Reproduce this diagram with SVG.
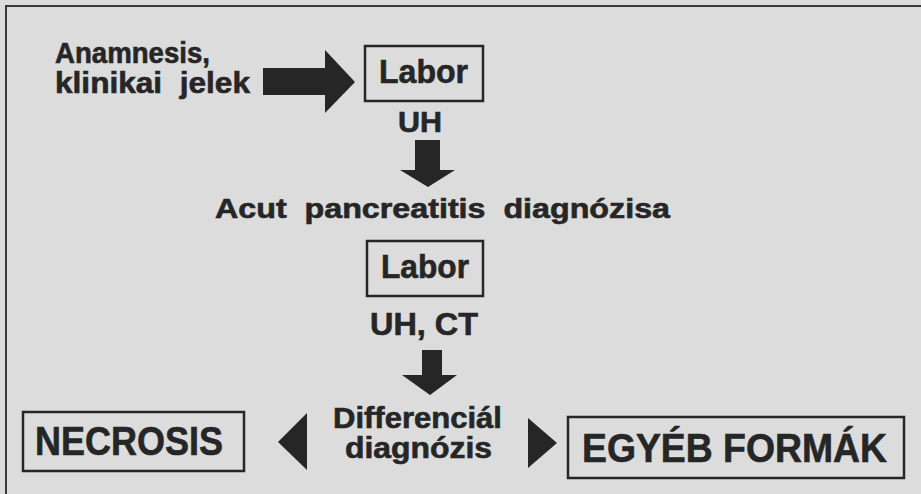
<svg xmlns="http://www.w3.org/2000/svg" width="921" height="494" viewBox="0 0 921 494">
  <style>
    .t { font-family: "Liberation Sans", Arial, sans-serif; font-weight: bold; fill: #262626; stroke: #262626; stroke-width: 0.6; }
    .box { fill: none; stroke: #262626; stroke-width: 2.5; }
    .arr { fill: #262626; stroke: none; }
    .frame { stroke: #3a3a3a; stroke-width: 2; fill: none; }
  </style>
  <rect x="0" y="0" width="921" height="494" fill="#dcdcdc"/>
  <path class="frame" d="M6 494 V6 H921"/>

  <g id="anamnesis">
    <text class="t" x="55" y="63" font-size="29" textLength="155" lengthAdjust="spacingAndGlyphs">Anamnesis,</text>
    <text class="t" x="55" y="93" font-size="29" textLength="195" lengthAdjust="spacingAndGlyphs" xml:space="preserve">klinikai  jelek</text>
  </g>

  <g id="labor1">
    <rect class="box" x="365" y="46" width="118" height="55"/>
    <text class="t" x="379" y="83" font-size="34" textLength="89" lengthAdjust="spacingAndGlyphs">Labor</text>
    <text class="t" x="398" y="132" font-size="29" textLength="44" lengthAdjust="spacingAndGlyphs">UH</text>
  </g>

  <g id="acut">
    <text class="t" x="215" y="218" font-size="27" textLength="455" lengthAdjust="spacingAndGlyphs" xml:space="preserve">Acut  pancreatitis  diagnózisa</text>
  </g>

  <g id="labor2">
    <rect class="box" x="367" y="241" width="116" height="55"/>
    <text class="t" x="381" y="278" font-size="34" textLength="88" lengthAdjust="spacingAndGlyphs">Labor</text>
    <text class="t" x="370" y="335" font-size="31" textLength="108" lengthAdjust="spacingAndGlyphs">UH, CT</text>
  </g>

  <g id="differencial">
    <text class="t" x="333" y="428" font-size="29" textLength="169" lengthAdjust="spacingAndGlyphs">Differenciál</text>
    <text class="t" x="345" y="458" font-size="29" textLength="147" lengthAdjust="spacingAndGlyphs">diagnózis</text>
  </g>

  <g id="necrosis">
    <rect class="box" x="23" y="412" width="221" height="59"/>
    <text class="t" x="35" y="455" font-size="40" textLength="188" lengthAdjust="spacingAndGlyphs">NECROSIS</text>
  </g>

  <g id="egyeb">
    <rect class="box" x="568" y="417" width="336" height="61"/>
    <text class="t" x="582" y="462" font-size="40" textLength="305" lengthAdjust="spacingAndGlyphs">EGYÉB FORMÁK</text>
  </g>

  <g id="connectors">
    <polygon class="arr" points="263,68 325,68 325,50 355,82 325,113 325,95 263,95"/>
    <polygon class="arr" points="415,140 440,140 440,170 455,170 428,187 400,170 415,170"/>
    <polygon class="arr" points="422,350 442,350 442,375 457,375 430,395 402,375 422,375"/>
    <polygon class="arr" points="307,413 307,470 278,442"/>
    <polygon class="arr" points="528,418 528,468 557,443"/>
  </g>
</svg>
